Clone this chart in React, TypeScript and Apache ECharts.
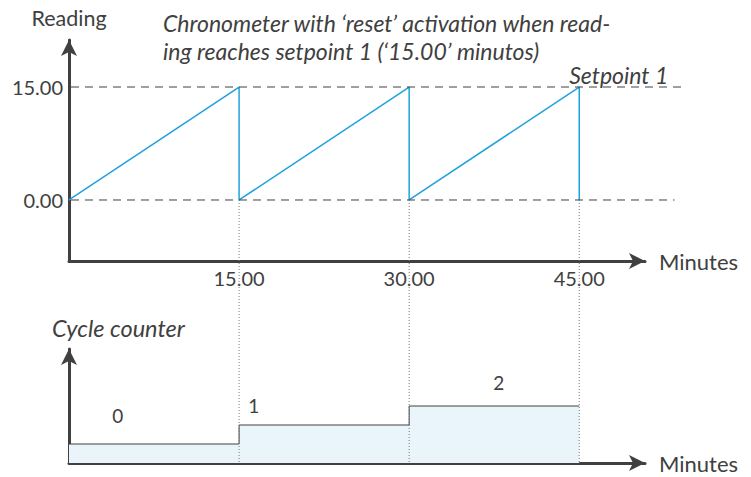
import React, { useEffect, useRef } from 'react';
import * as echarts from 'echarts';

// ---- data ----
const readingTime = [0, 15, 15, 30, 30, 45, 45];
const readingValue = [0, 15, 0, 15, 0, 15, 0];
const counterTime = [0, 15, 30, 45];
const counterValue = [0, 1, 2, 2];
const resetTimes = [15, 30, 45];
const xTickValues = [15, 30, 45];
const yTickValues = [0, 15];
const setpointValue = 15;
const counterLabels = ['0', '1', '2'];
const counterLabelX = [4.3, 16.3, 37.9];
const counterLabelY = [1.5, 2.05, 3.25];

const FONT = 'Lato, Carlito, "Noto Sans", sans-serif';
const DARK = '#404040';
const BLUE = '#1fa2dc';

export default function App() {
  const ref = useRef<HTMLDivElement>(null);
  useEffect(() => {
    if (!ref.current) return;
    const chart = echarts.init(ref.current, null, { renderer: 'svg' });
    const axisLine = {
      onZero: false,
      lineStyle: { color: DARK, width: 3 },
      symbol: ['none', 'arrow'],
      symbolSize: [12, 16],
    };
    const baseAxis = {
      type: 'value' as const,
      splitLine: { show: false },
      axisTick: { show: false },
    };
    const option: any = {
      animation: false,
      grid: [
        { left: 69, top: 40, width: 576, height: 221, containLabel: false, outerBoundsMode: 'none' },
        { left: 69, top: 349, width: 576, height: 114, containLabel: false, outerBoundsMode: 'none' },
      ],
      xAxis: [
        {
          ...baseAxis,
          gridIndex: 0,
          min: 0,
          max: 50.8,
          axisLine,
          axisLabel: {
            customValues: xTickValues,
            formatter: (v: number) => v.toFixed(2),
            fontSize: 20,
            fontFamily: FONT,
            color: DARK,
            margin: 7,
          },
          name: 'Minutes',
          nameLocation: 'end',
          nameGap: 14,
          nameTextStyle: { fontSize: 22, fontFamily: FONT, color: DARK },
        },
        {
          ...baseAxis,
          gridIndex: 1,
          min: 0,
          max: 50.8,
          axisLine,
          axisLabel: { show: false },
          name: 'Minutes',
          nameLocation: 'end',
          nameGap: 14,
          nameTextStyle: { fontSize: 22, fontFamily: FONT, color: DARK },
        },
      ],
      yAxis: [
        {
          ...baseAxis,
          gridIndex: 0,
          min: -8.1,
          max: 21.24,
          axisLine,
          axisLabel: {
            customValues: yTickValues,
            formatter: (v: number) => v.toFixed(2),
            fontSize: 20,
            fontFamily: FONT,
            color: DARK,
            margin: 6,
          },
          name: 'Reading',
          nameLocation: 'end',
          nameGap: 11,
          nameTextStyle: { fontSize: 21.5, fontFamily: FONT, color: DARK },
        },
        {
          ...baseAxis,
          gridIndex: 1,
          min: -1,
          max: 5,
          axisLine,
          axisLabel: { show: false },
        },
      ],
      series: [
        {
          type: 'line',
          xAxisIndex: 0,
          yAxisIndex: 0,
          data: readingTime.map((t, i) => [t, readingValue[i]]),
          showSymbol: false,
          lineStyle: { color: BLUE, width: 1.5 },
          z: 5,
        },
        {
          type: 'line',
          xAxisIndex: 1,
          yAxisIndex: 1,
          step: 'end',
          data: counterTime.map((t, i) => [t, counterValue[i]]),
          showSymbol: false,
          lineStyle: { color: DARK, width: 1 },
          areaStyle: { color: '#e9f4fb', opacity: 1, origin: 'start' },
          z: 3,
        },
      ],
    };
    chart.setOption(option);

    const px = (gi: number, pt: number[]) => chart.convertToPixel({ gridIndex: gi }, pt) as number[];
    const graphics: any[] = [];
    // dashed reference lines at setpoint and zero
    const lineEnds = [
      { v: setpointValue, end: 54.4 },
      { v: 0, end: 53.4 },
    ];
    lineEnds.forEach(({ v, end }) => {
      const a = px(0, [0, v]);
      const b = px(0, [end, v]);
      graphics.push({
        type: 'line',
        z: 10,
        shape: { x1: a[0] + 2, y1: a[1], x2: b[0], y2: b[1] },
        style: { stroke: DARK, lineWidth: 1, lineDash: [8, 6] },
        silent: true,
      });
    });
    // vertical dotted reset lines
    resetTimes.forEach((t) => {
      const a = px(0, [t, 0]);
      const b = px(1, [t, -1]);
      graphics.push({
        type: 'line',
        z: 10,
        shape: { x1: a[0], y1: a[1], x2: b[0], y2: b[1] },
        style: { stroke: '#777', lineWidth: 1, lineDash: [1, 2] },
        silent: true,
      });
    });
    // setpoint annotation
    const sp = px(0, [readingTime[5], setpointValue]);
    graphics.push({
      type: 'text',
      x: sp[0] - 10,
      y: sp[1] - 12,
      z: 10,
      style: {
        text: 'Setpoint 1',
        font: `italic 23px ${FONT}`,
        fill: DARK,
        align: 'left',
        textAlign: 'left',
        verticalAlign: 'middle',
        textVerticalAlign: 'middle',
      },
    });
    // counter labels
    counterLabels.forEach((s, i) => {
      const p = px(1, [counterLabelX[i], counterLabelY[i]]);
      graphics.push({
        type: 'text',
        x: p[0],
        y: p[1],
        z: 10,
        style: {
          text: s,
          font: `19px ${FONT}`,
          fill: DARK,
          align: 'center',
          textAlign: 'center',
          verticalAlign: 'middle',
          textVerticalAlign: 'middle',
        },
      });
    });
    // titles
    const texts = [
      { t: 'Chronometer with \u2018reset\u2019 activation when read-', x: 163, y: 23, s: 23, it: true },
      { t: 'ing reaches setpoint 1 (\u201815.00\u2019 minutos)', x: 163, y: 51, s: 23, it: true },
      { t: 'Cycle counter', x: 52, y: 328, s: 23.5, it: true },
    ];
    texts.forEach((o) => {
      graphics.push({
        type: 'text',
        x: o.x,
        y: o.y,
        z: 10,
        style: {
          text: o.t,
          font: `${o.it ? 'italic ' : ''}${o.s}px ${FONT}`,
          fill: DARK,
          align: 'left',
          textAlign: 'left',
          verticalAlign: 'middle',
          textVerticalAlign: 'middle',
        },
      });
    });
    chart.setOption({ graphic: graphics });

    return () => chart.dispose();
  }, []);
  return (
    <div
      ref={ref}
      style={{ position: 'absolute', left: 0, top: 0, width: 751, height: 477, background: '#fff' }}
    />
  );
}
